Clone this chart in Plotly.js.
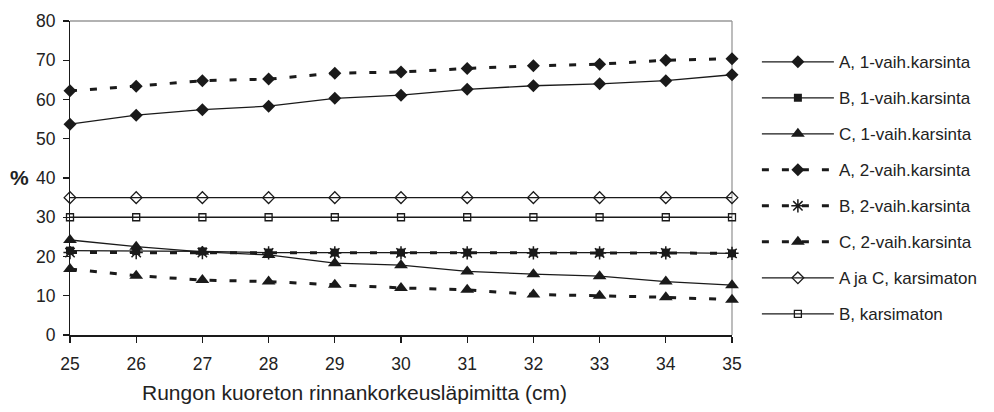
<!DOCTYPE html>
<html>
<head>
<meta charset="utf-8">
<script src="https://cdn.plot.ly/plotly-3.0.1.min.js"></script>
<style>html,body{margin:0;padding:0;background:#fff;}#chart{width:994px;height:412px;}</style>
</head>
<body>
<div id="chart"></div>
<script>
// Diameters (cm)
const diameters = [25, 26, 27, 28, 29, 30, 31, 32, 33, 34, 35];

// Series values (%)
const seriesNames = [
  'A, 1-vaih.karsinta',
  'B, 1-vaih.karsinta',
  'C, 1-vaih.karsinta',
  'A, 2-vaih.karsinta',
  'B, 2-vaih.karsinta',
  'C, 2-vaih.karsinta',
  'A ja C, karsimaton',
  'B, karsimaton'
];
const a1 = [53.7, 56.0, 57.4, 58.3, 60.3, 61.1, 62.6, 63.5, 64.0, 64.8, 66.3];
const b1 = [21.5, 21.4, 21.3, 21.0, 21.0, 21.0, 21.0, 21.0, 21.0, 21.0, 20.8];
const c1 = [24.2, 22.5, 21.2, 20.4, 18.3, 17.8, 16.2, 15.5, 15.0, 13.6, 12.7];
const a2 = [62.2, 63.4, 64.8, 65.2, 66.7, 67.0, 67.9, 68.6, 69.0, 70.0, 70.4];
const b2 = [21.0, 21.0, 21.0, 20.9, 20.9, 20.9, 20.9, 20.9, 20.9, 20.9, 20.8];
const c2 = [16.8, 15.1, 14.0, 13.6, 12.8, 12.0, 11.5, 10.3, 10.0, 9.6, 9.0];
const acNone = [35, 35, 35, 35, 35, 35, 35, 35, 35, 35, 35];
const bNone = [30, 30, 30, 30, 30, 30, 30, 30, 30, 30, 30];

const yTicks = [0, 10, 20, 30, 40, 50, 60, 70, 80];

const ink = '#1a1a1a';
const solid = {color: ink, width: 1.3};
const dashed = {color: ink, width: 3, dash: '7px,13px'};

function tr(name, y, line, marker, group, xa, ya) {
  return {
    type: 'scatter', mode: 'lines+markers', name: name,
    x: diameters, y: y, line: line, marker: marker,
    xaxis: xa || 'x', yaxis: ya || 'y',
    legendgroup: group, cliponaxis: false, hoverinfo: 'x+y+name'
  };
}

const data = [
  tr(seriesNames[0], a1, solid, {symbol: 'diamond', size: 10, color: ink}, 'g1'),
  tr(seriesNames[1], b1, solid, {symbol: 'square', size: 8, color: ink}, 'g2'),
  tr(seriesNames[2], c1, solid, {symbol: 'triangle-up', size: 12, color: ink}, 'g3'),
  tr(seriesNames[3], a2, dashed, {symbol: 'diamond', size: 10, color: ink}, 'g4'),
  tr(seriesNames[4], b2, dashed, {symbol: 'asterisk-open', size: 11, color: ink, line: {color: ink, width: 1.5}}, 'g5'),
  tr(seriesNames[5], c2, dashed, {symbol: 'triangle-up', size: 12, color: ink}, 'g6'),
  tr(seriesNames[6], acNone, solid, {symbol: 'diamond-open', size: 9, color: ink, line: {color: ink, width: 1.3}}, 'g7'),
  tr(seriesNames[7], bNone, solid, {symbol: 'square-open', size: 7, color: ink, line: {color: ink, width: 1.3}}, 'g8', 'x2', 'y2')
];

const layout = {
  width: 994, height: 412,
  margin: {l: 70, r: 259, t: 21, b: 77, pad: 0},
  paper_bgcolor: '#ffffff', plot_bgcolor: '#ffffff',
  font: {family: 'Liberation Sans, Arial, sans-serif', size: 17, color: '#222'},
  showlegend: true,
  legend: {
    x: 1.0376, xanchor: 'left', y: 0.926, yanchor: 'top',
    font: {family: 'Liberation Sans, Arial, sans-serif', size: 17, color: '#222'},
    tracegroupgap: 10.9, itemwidth: 72, bgcolor: 'rgba(0,0,0,0)', borderwidth: 0
  },
  // main axes: axis lines and short visible tick marks
  xaxis: {
    range: [25, 35], tickmode: 'array', tickvals: diameters,
    showticklabels: false,
    showgrid: false, zeroline: false, showline: true, linecolor: ink, linewidth: 1.5,
    ticks: 'outside', ticklen: 6, tickwidth: 1.3, tickcolor: ink, fixedrange: true
  },
  yaxis: {
    range: [0, 80], tickmode: 'array', tickvals: yTicks,
    showticklabels: false,
    showgrid: false, zeroline: false, showline: true, linecolor: ink, linewidth: 1.5,
    ticks: 'outside', ticklen: 6, tickwidth: 1.3, tickcolor: ink, fixedrange: true
  },
  // overlaid axes on the same scales carrying the tick labels
  xaxis2: {
    overlaying: 'x', anchor: 'y2', side: 'bottom',
    range: [25, 35], tickmode: 'array', tickvals: diameters, ticktext: diameters.map(String),
    showgrid: false, zeroline: false, showline: false,
    ticks: 'outside', ticklen: 13, tickwidth: 1, tickcolor: 'rgba(0,0,0,0)',
    tickfont: {size: 17.5, color: '#222'}, fixedrange: true
  },
  yaxis2: {
    overlaying: 'y', anchor: 'x2', side: 'left',
    range: [0, 80], tickmode: 'array', tickvals: yTicks, ticktext: yTicks.map(String),
    showgrid: false, zeroline: false, showline: false,
    ticks: 'outside', ticklen: 10, tickwidth: 1, tickcolor: 'rgba(0,0,0,0)',
    tickfont: {size: 17.5, color: '#222'}, fixedrange: true
  },
  shapes: [
    {type: 'line', xref: 'paper', yref: 'paper', x0: 0, x1: 1, y0: 1, y1: 1, line: {color: '#999', width: 1.3}, layer: 'below'},
    {type: 'line', xref: 'paper', yref: 'paper', x0: 1, x1: 1, y0: 0, y1: 1, line: {color: '#999', width: 1.3}, layer: 'below'}
  ],
  annotations: [
    {text: 'Rungon kuoreton rinnankorkeusläpimitta (cm)', xref: 'paper', yref: 'paper',
     x: 0, y: 0, xanchor: 'center', yanchor: 'middle', showarrow: false,
     font: {size: 21, color: '#222'}},
    {text: '<b>%</b>', xref: 'paper', yref: 'paper', x: 0, y: 0, xanchor: 'center', yanchor: 'middle',
     showarrow: false, font: {size: 21, color: '#222'}}
  ]
};
// annotation positions expressed in pixels relative to the plot area
const plotW = 994 - 70 - 259, plotH = 412 - 21 - 77;
layout.annotations[0].x = (356 - 70) / plotW;
layout.annotations[0].y = (335 - 392) / plotH;
layout.annotations[1].x = (19 - 70) / plotW;
layout.annotations[1].y = (335 - 177) / plotH;

Plotly.newPlot('chart', data, layout, {displayModeBar: false, staticPlot: true});
</script>
</body>
</html>
